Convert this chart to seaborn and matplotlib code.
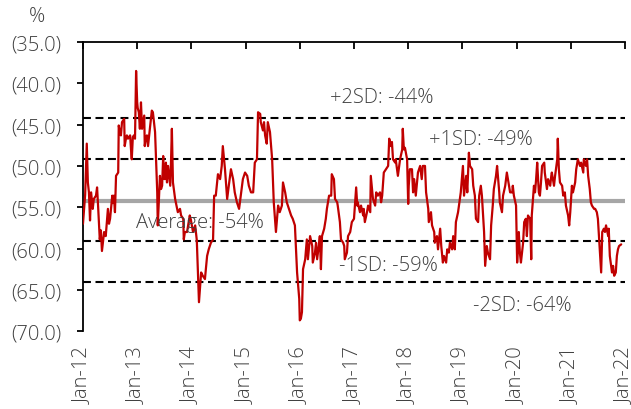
import matplotlib
matplotlib.use("Agg")
import matplotlib.pyplot as plt
import seaborn as sns
import pandas as pd

# spread series (decimal years, %)
years_a = [2012.00, 2012.04, 2012.07, 2012.09, 2012.11, 2012.13, 2012.15, 2012.18, 2012.20, 2012.24,
           2012.26, 2012.28, 2012.31, 2012.33, 2012.35, 2012.39, 2012.42, 2012.46, 2012.48, 2012.50,
           2012.54, 2012.55, 2012.57, 2012.59, 2012.61, 2012.63, 2012.65, 2012.66, 2012.68, 2012.70,
           2012.72, 2012.76, 2012.77, 2012.79, 2012.81, 2012.83, 2012.87, 2012.89, 2012.90, 2012.92,
           2012.94, 2012.96, 2012.98, 2013.00, 2013.01, 2013.03, 2013.05, 2013.07, 2013.09, 2013.13,
           2013.14, 2013.16, 2013.18, 2013.20, 2013.24, 2013.27, 2013.29, 2013.33, 2013.37, 2013.38,
           2013.42, 2013.44, 2013.46, 2013.48, 2013.49, 2013.51, 2013.53, 2013.55, 2013.57, 2013.61,
           2013.62, 2013.64, 2013.66, 2013.70, 2013.75, 2013.79, 2013.81, 2013.85, 2013.86, 2013.88,
           2013.92, 2013.94]
vals_a = [-57.0, -53.5, -47.3, -52.0, -53.2, -56.6, -53.2, -55.2, -54.0, -53.6,
          -52.6, -55.0, -58.9, -57.8, -60.3, -58.0, -58.5, -55.2, -57.0, -56.4,
          -53.6, -54.5, -53.6, -55.6, -51.2, -51.0, -50.8, -45.1, -45.9, -46.3,
          -44.7, -44.3, -47.6, -46.8, -46.3, -46.7, -46.3, -48.4, -49.2, -46.5,
          -46.3, -46.7, -38.5, -42.3, -43.0, -43.5, -45.5, -42.3, -45.5, -43.9,
          -47.6, -46.5, -46.3, -47.6, -45.1, -43.3, -43.5, -45.9, -53.2, -57.2,
          -51.2, -52.8, -52.4, -48.8, -51.5, -51.6, -49.6, -52.0, -50.0, -52.4,
          -50.5, -45.5, -52.0, -54.0, -55.6, -55.2, -56.0, -56.4, -58.9, -58.0,
          -58.0, -57.2]

years_b = [2013.97, 2013.99, 2014.03, 2014.07, 2014.10, 2014.14, 2014.18, 2014.21, 2014.25, 2014.29,
           2014.32, 2014.36, 2014.40, 2014.42, 2014.45, 2014.49, 2014.53, 2014.56, 2014.58, 2014.62,
           2014.66, 2014.69, 2014.73, 2014.77, 2014.80, 2014.84, 2014.88, 2014.92, 2014.95, 2014.99,
           2015.03, 2015.06, 2015.10, 2015.14, 2015.17, 2015.21, 2015.23, 2015.27, 2015.28, 2015.32,
           2015.34, 2015.36, 2015.39, 2015.41, 2015.45, 2015.49, 2015.52, 2015.56, 2015.60, 2015.63,
           2015.67, 2015.69, 2015.73, 2015.76, 2015.80, 2015.84, 2015.87, 2015.91, 2015.95, 2015.99,
           2016.00, 2016.02, 2016.04, 2016.06]
vals_b = [-56.0, -56.5, -58.0, -57.2, -59.0, -66.5, -62.9, -63.3, -63.7, -60.9,
          -60.1, -59.3, -58.9, -53.6, -53.6, -51.0, -51.6, -50.0, -47.6, -50.4,
          -54.0, -52.4, -50.4, -51.6, -53.2, -54.4, -55.2, -53.2, -51.6, -50.8,
          -51.2, -52.4, -53.2, -53.2, -49.6, -49.2, -43.5, -43.7, -44.7, -45.7,
          -44.7, -46.3, -47.3, -44.7, -45.9, -49.2, -54.4, -58.0, -54.8, -55.6,
          -54.8, -52.0, -53.2, -54.4, -55.2, -56.0, -56.4, -57.2, -62.9, -66.1,
          -68.7, -68.5, -67.7, -62.5]

years_c = [2016.10, 2016.13, 2016.15, 2016.19, 2016.23, 2016.24, 2016.28, 2016.30, 2016.32, 2016.35,
           2016.37, 2016.39, 2016.41, 2016.45, 2016.48, 2016.50, 2016.54, 2016.58, 2016.59, 2016.63,
           2016.65, 2016.69, 2016.70, 2016.74, 2016.76, 2016.80, 2016.82, 2016.83, 2016.87, 2016.89,
           2016.93, 2016.96, 2017.00, 2017.04, 2017.06, 2017.07, 2017.11, 2017.13, 2017.17, 2017.18,
           2017.20, 2017.24, 2017.26, 2017.30, 2017.31, 2017.35, 2017.39, 2017.41, 2017.44, 2017.48,
           2017.50, 2017.52, 2017.55, 2017.59, 2017.63, 2017.65, 2017.68, 2017.70, 2017.72, 2017.76,
           2017.77, 2017.81, 2017.85, 2017.89, 2017.90, 2017.92, 2017.94, 2017.98, 2018.00, 2018.01,
           2018.03, 2018.07]
vals_c = [-61.3, -58.9, -61.3, -58.5, -59.7, -61.7, -60.5, -59.3, -61.3, -59.7,
          -58.5, -62.5, -58.5, -57.6, -56.4, -55.2, -53.6, -53.6, -51.0, -51.6,
          -54.0, -54.4, -54.8, -56.8, -58.9, -59.3, -59.7, -61.3, -60.5, -58.5,
          -58.0, -56.8, -56.4, -52.6, -54.8, -54.4, -55.6, -54.8, -56.0, -55.2,
          -56.8, -55.6, -54.8, -55.6, -51.2, -54.0, -54.8, -53.2, -53.6, -53.2,
          -54.4, -53.6, -50.8, -50.4, -50.0, -46.7, -47.6, -47.1, -49.2, -49.6,
          -49.2, -51.2, -49.2, -48.0, -45.5, -48.0, -47.8, -49.2, -54.6, -52.4,
          -50.4, -50.4]

years_d = [2018.09, 2018.11, 2018.14, 2018.18, 2018.22, 2018.25, 2018.27, 2018.31, 2018.33, 2018.37,
           2018.38, 2018.42, 2018.44, 2018.48, 2018.49, 2018.53, 2018.55, 2018.59, 2018.61, 2018.64,
           2018.66, 2018.70, 2018.72, 2018.75, 2018.77, 2018.81, 2018.83, 2018.86, 2018.88, 2018.92,
           2018.96, 2018.97, 2019.01, 2019.03, 2019.07, 2019.09, 2019.12, 2019.14, 2019.18, 2019.20,
           2019.23, 2019.25, 2019.29, 2019.31, 2019.34, 2019.36, 2019.40, 2019.42, 2019.45, 2019.47,
           2019.51, 2019.53, 2019.56, 2019.58, 2019.62, 2019.64, 2019.68, 2019.69, 2019.73, 2019.75,
           2019.79, 2019.82, 2019.84, 2019.88, 2019.92, 2019.93, 2019.95, 2019.99, 2020.01, 2020.04]
vals_d = [-53.2, -51.6, -53.6, -50.8, -50.0, -51.6, -50.0, -50.0, -53.2, -55.2,
          -56.8, -55.6, -57.2, -58.0, -59.3, -58.5, -60.1, -57.6, -59.7, -61.7,
          -60.9, -61.7, -60.1, -60.5, -59.3, -60.1, -58.5, -60.1, -56.8, -55.6,
          -53.6, -53.2, -50.0, -53.6, -51.2, -53.2, -48.4, -50.0, -50.4, -52.4,
          -53.6, -56.4, -56.8, -53.6, -52.4, -53.6, -58.0, -62.1, -59.7, -60.5,
          -61.3, -57.2, -54.8, -52.8, -51.2, -50.0, -53.2, -54.4, -55.6, -53.6,
          -52.4, -50.8, -51.6, -53.2, -53.2, -52.4, -53.6, -54.8, -61.7, -58.0]

years_e = [2020.06, 2020.08, 2020.12, 2020.14, 2020.17, 2020.19, 2020.21, 2020.25, 2020.27, 2020.28,
           2020.32, 2020.34, 2020.36, 2020.38, 2020.41, 2020.43, 2020.45, 2020.47, 2020.51, 2020.52,
           2020.56, 2020.58, 2020.62, 2020.64, 2020.65, 2020.69, 2020.71, 2020.75, 2020.76, 2020.78,
           2020.80, 2020.84, 2020.86, 2020.89, 2020.91, 2020.95, 2020.97, 2020.99, 2021.02, 2021.04,
           2021.08, 2021.10, 2021.13, 2021.17, 2021.19, 2021.23, 2021.24, 2021.28, 2021.30, 2021.32,
           2021.35, 2021.37, 2021.39, 2021.43, 2021.45, 2021.48, 2021.50, 2021.52, 2021.56, 2021.58,
           2021.61, 2021.63, 2021.65, 2021.69, 2021.70, 2021.72, 2021.76, 2021.78, 2021.80, 2021.83,
           2021.85, 2021.87, 2021.89, 2021.93]
vals_e = [-60.5, -61.7, -59.3, -56.8, -56.4, -58.5, -56.0, -56.4, -61.3, -56.0,
          -52.4, -53.2, -51.6, -49.6, -53.2, -53.6, -52.0, -50.0, -49.6, -50.8,
          -52.8, -51.6, -52.4, -51.2, -50.8, -52.4, -51.2, -49.2, -46.7, -50.4,
          -52.0, -52.4, -53.6, -53.2, -54.8, -56.0, -57.2, -55.6, -52.4, -53.2,
          -52.0, -50.4, -49.2, -50.0, -49.6, -50.8, -49.2, -50.0, -49.2, -51.2,
          -52.8, -54.4, -54.8, -55.2, -55.2, -55.6, -56.4, -58.5, -62.9, -58.0,
          -57.6, -58.0, -57.2, -58.5, -57.6, -60.9, -62.9, -62.1, -63.3, -62.9,
          -60.9, -60.1, -59.7, -59.5]

# reference levels: average and +/- 1, 2 standard deviations
avg_level = -54.2
sd_levels = [-44.25, -49.2, -59.15, -64.1]
band_labels = ["+2SD: -44%", "+1SD: -49%", "Average: -54%", "-1SD: -59%", "-2SD: -64%"]

x_ticks = list(range(2012, 2023))
x_tick_labels = ["Jan-12", "Jan-13", "Jan-14", "Jan-15", "Jan-16", "Jan-17",
                 "Jan-18", "Jan-19", "Jan-20", "Jan-21", "Jan-22"]
y_ticks = [-70, -65, -60, -55, -50, -45, -40, -35]
y_tick_labels = ["(70.0)", "(65.0)", "(60.0)", "(55.0)", "(50.0)", "(45.0)", "(40.0)", "(35.0)"]

df = pd.DataFrame({
    "year": years_a + years_b + years_c + years_d + years_e,
    "spread": vals_a + vals_b + vals_c + vals_d + vals_e,
})

sns.set_theme(style="white")
plt.rcParams["font.family"] = ["Open Sans", "DejaVu Sans"]
plt.rcParams["font.weight"] = "light"
txt_color = "#404040"
fs = 14.5

fig = plt.figure(figsize=(6.31, 4.10), dpi=100)
ax = fig.add_axes([0.1315, 0.19, 0.859, 0.705])

# reference lines
for lvl in sd_levels:
    ax.axhline(lvl, color="black", lw=1.5, ls=(0, (3.8, 2.2)), zorder=1)
ax.axhline(avg_level, color="#A6A6A6", lw=3, zorder=2)

sns.lineplot(data=df, x="year", y="spread", color="#C00000", lw=1.6,
             ax=ax, zorder=3, estimator=None, sort=False)

# band labels
label_pos = [(2017.52, -41.7), (2019.34, -46.7), (2014.16, -56.8), (2017.63, -62.0), (2020.10, -66.8)]
for lab, (tx, ty) in zip(band_labels, label_pos):
    ax.text(tx, ty, lab, ha="center", va="center", fontsize=fs, color=txt_color, zorder=5)

ax.set_xlim(2012, 2022)
ax.set_ylim(-70, -35)
ax.set_xticks(x_ticks)
ax.set_xticklabels(x_tick_labels, rotation=90, fontsize=fs, color=txt_color, va="top")
ax.set_yticks(y_ticks)
ax.set_yticklabels(y_tick_labels, fontsize=fs, color=txt_color)
ax.set_xlabel("")
ax.set_ylabel("")

for side in ["right", "bottom"]:
    ax.spines[side].set_visible(False)
for side in ["left", "top"]:
    ax.spines[side].set_color("black")
    ax.spines[side].set_linewidth(1.3)

ax.tick_params(axis="x", top=True, bottom=False, labeltop=False, labelbottom=True,
               direction="in", length=5, width=1.3, color="black", pad=11)
ax.tick_params(axis="y", left=True, direction="out", length=4.3, width=1.3, color="black", pad=11)

fig.text(37 / 631, 1 - 17 / 410, "%", ha="center", va="center", fontsize=fs, color=txt_color)

fig.savefig("out.png", dpi=100)
